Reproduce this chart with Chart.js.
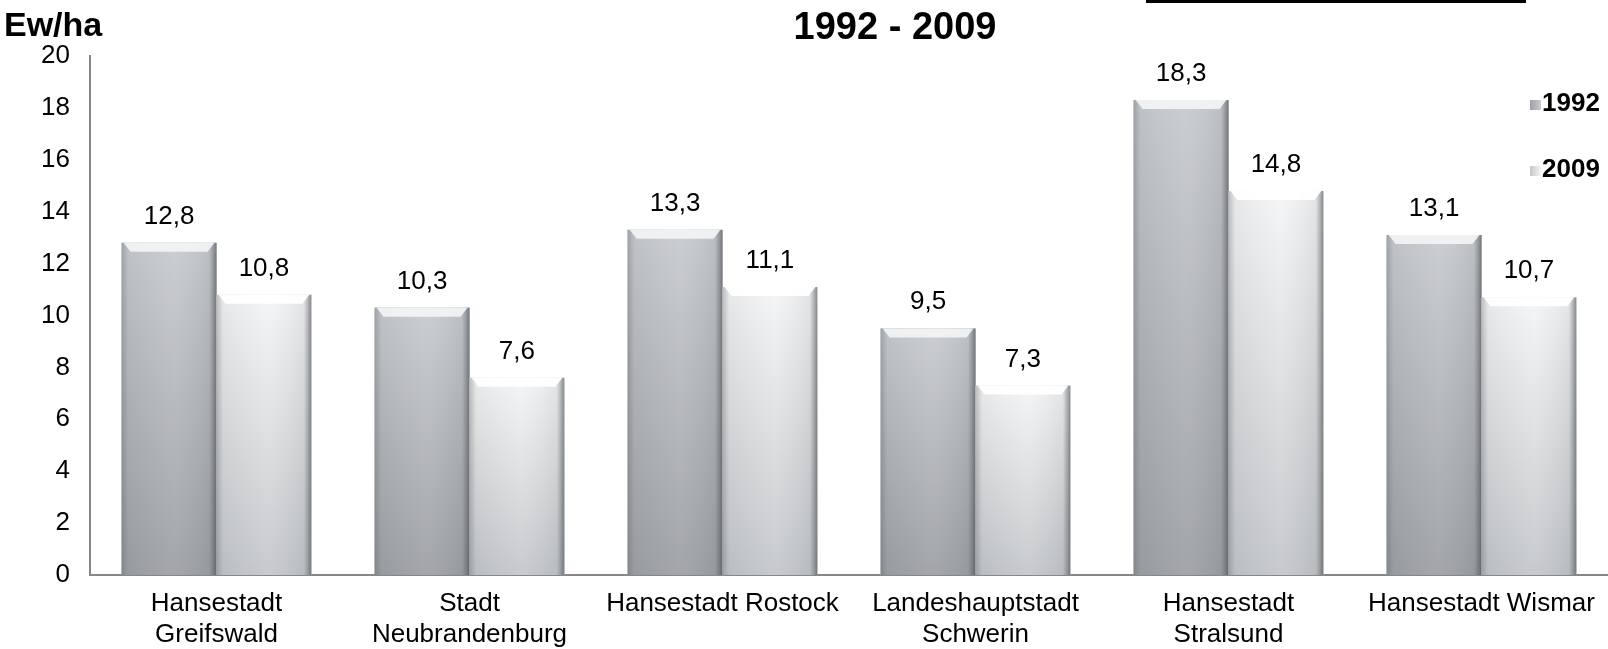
<!DOCTYPE html>
<html lang="de">
<head>
<meta charset="UTF-8">
<title>Ew/ha 1992 - 2009</title>
<script src="https://cdn.jsdelivr.net/npm/chart.js@4"></script>
<style>
  html, body { margin:0; padding:0; background:#fff; overflow:hidden; }
  #wrap { position:relative; width:1608px; height:649px; }
</style>
</head>
<body>
<div id="wrap"><canvas id="chart" width="1608" height="649"></canvas></div>
<script>
// ---- data ----
const categories = [
  ['Hansestadt', 'Greifswald'],
  ['Stadt', 'Neubrandenburg'],
  'Hansestadt Rostock',
  ['Landeshauptstadt', 'Schwerin'],
  ['Hansestadt', 'Stralsund'],
  'Hansestadt Wismar'
];
const years = ['1992', '2009'];
const values1992 = [12.8, 10.3, 13.3, 9.5, 18.3, 13.1];
const values2009 = [10.8, 7.6, 11.1, 7.3, 14.8, 10.7];
const yMin = 0, yMax = 20, yStep = 2;
const unitLabel = 'Ew/ha';
const titleText = '1992 - 2009';

const FONT = '"Liberation Sans", Arial, sans-serif';

// bar looks: grey bevelled columns, 1992 darker, 2009 lighter
const palettes = [
  { top: '#c8cbcf', bottom: '#9da0a4', bevel: 'rgba(244,245,246,0.9)', flat: '#aeb2b6' },
  { top: '#f4f5f6', bottom: '#c4c7ca', bevel: 'rgba(255,255,255,0.95)', flat: '#dcdfe2' }
];

function drawBar(ctx, el, pal) {
  const { x, y, base, width } = el.getProps(['x', 'y', 'base', 'width'], true);
  const l = x - width / 2, r = x + width / 2, h = base - y;
  // body
  let g = ctx.createLinearGradient(0, y, 0, base);
  g.addColorStop(0, pal.top);
  g.addColorStop(1, pal.bottom);
  ctx.fillStyle = g;
  ctx.fillRect(l, y, width, h);
  // side shading
  g = ctx.createLinearGradient(l, 0, r, 0);
  g.addColorStop(0, 'rgba(80,85,90,0.35)');
  g.addColorStop(0.07, 'rgba(80,85,90,0.08)');
  g.addColorStop(0.55, 'rgba(255,255,255,0.06)');
  g.addColorStop(0.92, 'rgba(80,85,90,0.10)');
  g.addColorStop(1, 'rgba(60,64,68,0.6)');
  ctx.fillStyle = g;
  ctx.fillRect(l, y, width, h);
  // top bevel
  const b = Math.min(9, h);
  ctx.beginPath();
  ctx.moveTo(l + 2, y);
  ctx.lineTo(r - 2, y);
  ctx.lineTo(r - b, y + b);
  ctx.lineTo(l + b, y + b);
  ctx.closePath();
  ctx.fillStyle = pal.bevel;
  ctx.fill();
}

const barStyle = {
  id: 'barStyle',
  afterDatasetsDraw(chart) {
    const ctx = chart.ctx;
    ctx.save();
    chart.data.datasets.forEach((ds, i) => {
      chart.getDatasetMeta(i).data.forEach(el => drawBar(ctx, el, palettes[i]));
    });
    ctx.restore();
  }
};

// value labels above bars
const valueLabels = {
  id: 'valueLabels',
  afterDatasetsDraw(chart) {
    const ctx = chart.ctx;
    ctx.save();
    ctx.font = '26px ' + FONT;
    ctx.fillStyle = '#000';
    ctx.textAlign = 'center';
    ctx.textBaseline = 'alphabetic';
    chart.data.datasets.forEach((ds, i) => {
      chart.getDatasetMeta(i).data.forEach((el, j) => {
        const v = ds.data[j].toFixed(1).replace('.', ',');
        ctx.fillText(v, el.x, el.y - 19);
      });
    });
    ctx.restore();
  }
};

// title, unit, legend, top rule
const decorations = {
  id: 'decorations',
  afterDraw(chart) {
    const ctx = chart.ctx;
    ctx.save();
    ctx.fillStyle = '#000';
    ctx.fillRect(1146, 0, 380, 3);

    ctx.font = 'bold 38px ' + FONT;
    ctx.textAlign = 'center';
    ctx.fillText(titleText, 895, 39);

    ctx.font = 'bold 34px ' + FONT;
    ctx.textAlign = 'left';
    ctx.fillText(unitLabel, 4, 36);

    // legend
    const ly = [104, 170];
    ctx.font = 'bold 26px ' + FONT;
    ctx.textBaseline = 'middle';
    chart.data.datasets.forEach((ds, i) => {
      const g = ctx.createLinearGradient(1530, 0, 1541, 0);
      g.addColorStop(0, palettes[i].bottom);
      g.addColorStop(1, palettes[i].top);
      ctx.fillStyle = g;
      ctx.fillRect(1530, ly[i] - 4, 11, 10);
      ctx.fillStyle = '#000';
      ctx.fillText(ds.label, 1542, ly[i]);
    });
    ctx.restore();
  }
};

new Chart(document.getElementById('chart'), {
  type: 'bar',
  data: {
    labels: categories,
    datasets: [
      { label: years[0], data: values1992, backgroundColor: palettes[0].flat },
      { label: years[1], data: values2009, backgroundColor: palettes[1].flat }
    ]
  },
  options: {
    responsive: false,
    animation: false,
    events: [],
    layout: { padding: { top: 56, right: 0, bottom: 0, left: 0 } },
    datasets: { bar: { categoryPercentage: 0.75, barPercentage: 1.0 } },
    plugins: {
      legend: { display: false },
      title: { display: false },
      tooltip: { enabled: false }
    },
    scales: {
      x: {
        grid: { display: false, drawTicks: false },
        border: { display: true, color: '#878787', width: 2 },
        ticks: { color: '#000', font: { family: FONT, size: 26 }, padding: 13, maxRotation: 0, autoSkip: false },
        afterFit(scale) { scale.height = 74; }
      },
      y: {
        min: yMin, max: yMax,
        grid: { display: false, drawTicks: false },
        border: { display: true, color: '#878787', width: 2 },
        ticks: { stepSize: yStep, color: '#000', font: { family: FONT, size: 26 }, padding: 20 },
        afterFit(scale) { scale.width = 90; }
      }
    }
  },
  plugins: [barStyle, valueLabels, decorations]
});
</script>
</body>
</html>
